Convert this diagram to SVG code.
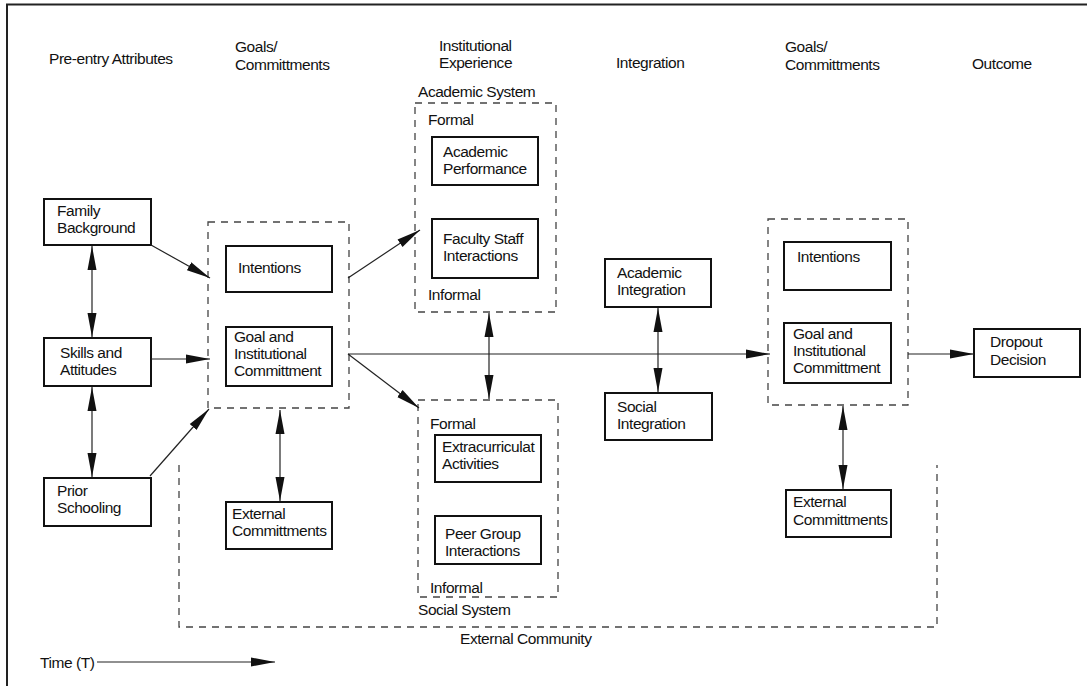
<svg xmlns="http://www.w3.org/2000/svg" width="1087" height="686" viewBox="0 0 1087 686">
<style>
text{font-family:"Liberation Sans",Arial,sans-serif;font-size:15.5px;letter-spacing:-0.45px;fill:#111}
.box{fill:#fff;stroke:#111;stroke-width:2}
.dash{fill:none;stroke:#444;stroke-width:1.3;stroke-dasharray:7 6}
.con{fill:none;stroke:#222;stroke-width:1.2}
</style>
<defs>
<marker id="arr" markerUnits="userSpaceOnUse" markerWidth="25" markerHeight="11" refX="24" refY="5.5" orient="auto-start-reverse" viewBox="0 0 25 11">
<path d="M0,1 L24,5.5 L0,10 z" fill="#111"/>
</marker>
</defs>
<rect width="1087" height="686" fill="#fff"/>
<path d="M7,686 V4.5 H1087" fill="none" stroke="#222" stroke-width="2"/>

<g id="headers">
<text x="49" y="64">Pre-entry Attributes</text>
<text x="235" y="52">Goals/</text>
<text x="235" y="70">Committments</text>
<text x="439" y="51">Institutional</text>
<text x="439" y="68">Experience</text>
<text x="616" y="68">Integration</text>
<text x="785" y="52">Goals/</text>
<text x="785" y="70">Committments</text>
<text x="972" y="69">Outcome</text>
</g>

<g id="groups">
<g id="goal-group-left"><rect class="dash" x="208" y="222" width="141" height="186"/></g>
<g id="academic-system">
<rect class="dash" x="415" y="103" width="141" height="209"/>
<text x="418" y="97">Academic System</text>
<text x="428" y="125">Formal</text>
<text x="428" y="300">Informal</text>
</g>
<g id="social-system">
<rect class="dash" x="418" y="400" width="140" height="197"/>
<text x="430" y="429">Formal</text>
<text x="430" y="593">Informal</text>
<text x="418" y="615">Social System</text>
</g>
<g id="goal-group-right"><rect class="dash" x="768" y="219" width="140" height="186"/></g>
<g id="external-community">
<path class="dash" d="M179,465 V627 H937 V465"/>
<text x="460" y="644">External Community</text>
</g>
</g>

<g id="family-background"><rect class="box" x="44" y="199" width="107" height="46"/><text x="57" y="216">Family</text><text x="57" y="233">Background</text></g>
<g id="skills-attitudes"><rect class="box" x="44" y="338" width="107" height="48"/><text x="60" y="358">Skills and</text><text x="60" y="375">Attitudes</text></g>
<g id="prior-schooling"><rect class="box" x="44" y="478" width="107" height="48"/><text x="57" y="496">Prior</text><text x="57" y="513">Schooling</text></g>

<g id="intentions-left"><rect class="box" x="226" y="246" width="106" height="46"/><text x="238" y="273">Intentions</text></g>
<g id="goal-commitment-left"><rect class="box" x="226" y="327" width="106" height="59"/><text x="234" y="342">Goal and</text><text x="234" y="359">Institutional</text><text x="234" y="376">Committment</text></g>
<g id="external-commit-left"><rect class="box" x="226" y="502" width="106" height="47"/><text x="232" y="519">External</text><text x="232" y="536">Committments</text></g>

<g id="academic-performance"><rect class="box" x="432" y="137" width="106" height="48"/><text x="443" y="157">Academic</text><text x="443" y="174">Performance</text></g>
<g id="faculty-staff"><rect class="box" x="432" y="219" width="106" height="59"/><text x="443" y="244">Faculty Staff</text><text x="443" y="261">Interactions</text></g>
<g id="extracurricular"><rect class="box" x="435" y="435" width="106" height="47"/><text x="442" y="452">Extracurriculat</text><text x="442" y="469">Activities</text></g>
<g id="peer-group"><rect class="box" x="435" y="516" width="106" height="48"/><text x="445" y="539">Peer Group</text><text x="445" y="556">Interactions</text></g>

<g id="academic-integration"><rect class="box" x="605" y="259" width="106" height="48"/><text x="617" y="278">Academic</text><text x="617" y="295">Integration</text></g>
<g id="social-integration"><rect class="box" x="605" y="393" width="107" height="47"/><text x="617" y="412">Social</text><text x="617" y="429">Integration</text></g>

<g id="intentions-right"><rect class="box" x="784" y="242" width="107" height="48"/><text x="797" y="262">Intentions</text></g>
<g id="goal-commitment-right"><rect class="box" x="784" y="323" width="107" height="60"/><text x="793" y="339">Goal and</text><text x="793" y="356">Institutional</text><text x="793" y="373">Committment</text></g>
<g id="external-commit-right"><rect class="box" x="786" y="490" width="105" height="47"/><text x="793" y="507">External</text><text x="793" y="525">Committments</text></g>
<g id="dropout-decision"><rect class="box" x="974" y="329" width="106" height="48"/><text x="990" y="347">Dropout</text><text x="990" y="365">Decision</text></g>

<g id="time-label"><text x="40" y="668">Time (T)</text></g>

<g id="connectors">
<line class="con" x1="151" y1="245" x2="210" y2="278" marker-end="url(#arr)"/>
<line class="con" x1="151" y1="359" x2="210" y2="359" marker-end="url(#arr)"/>
<line class="con" x1="150" y1="476" x2="209" y2="409" marker-end="url(#arr)"/>
<line class="con" x1="92" y1="246" x2="92" y2="337" marker-start="url(#arr)" marker-end="url(#arr)"/>
<line class="con" x1="92" y1="387" x2="92" y2="477" marker-start="url(#arr)" marker-end="url(#arr)"/>
<line class="con" x1="280" y1="410" x2="280" y2="501" marker-start="url(#arr)" marker-end="url(#arr)"/>
<line class="con" x1="348" y1="278" x2="420" y2="230" marker-end="url(#arr)"/>
<line class="con" x1="348" y1="354" x2="419" y2="408" marker-end="url(#arr)"/>
<line class="con" x1="348" y1="354" x2="770" y2="354" marker-end="url(#arr)"/>
<line class="con" x1="489" y1="313" x2="489" y2="399" marker-start="url(#arr)" marker-end="url(#arr)"/>
<line class="con" x1="658" y1="308" x2="658" y2="392" marker-start="url(#arr)" marker-end="url(#arr)"/>
<line class="con" x1="908" y1="354" x2="974" y2="354" marker-end="url(#arr)"/>
<line class="con" x1="843" y1="406" x2="843" y2="489" marker-start="url(#arr)" marker-end="url(#arr)"/>
<line class="con" x1="97" y1="662" x2="275" y2="662" marker-end="url(#arr)"/>
</g>
</svg>
